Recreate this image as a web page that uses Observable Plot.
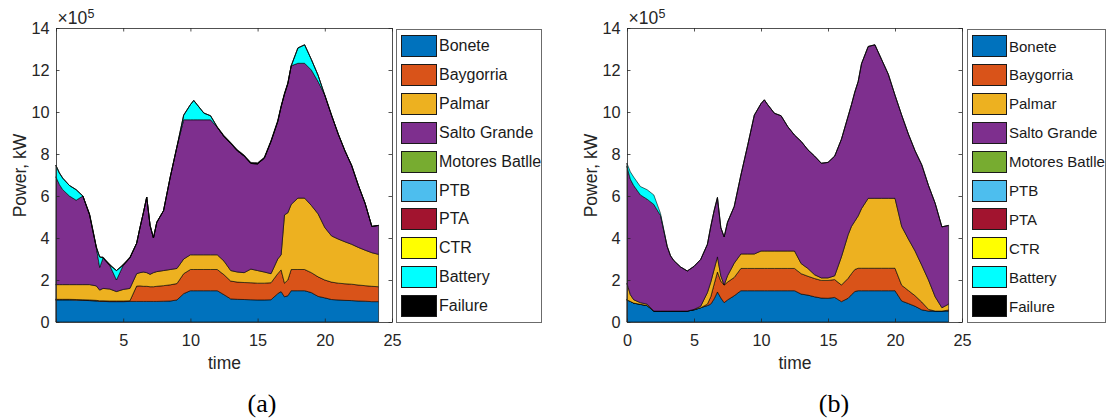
<!DOCTYPE html>
<html>
<head>
<meta charset="utf-8">
<script src="https://cdn.jsdelivr.net/npm/d3@7"></script>
<script src="https://cdn.jsdelivr.net/npm/@observablehq/plot@0.6"></script>
<style>
  html, body { margin: 0; padding: 0; background: #fff; }
  #figure { position: relative; width: 1107px; height: 420px; overflow: hidden;
            font-family: "Liberation Sans", Arial, Helvetica, sans-serif; color: #262626; }
  .panel { position: absolute; top: 0; }
  .legend { position: absolute; top: 29px; height: 294px; box-sizing: border-box;
            border: 1px solid #6b6b6b; background: #fff; z-index: 2; }
  .item { position: absolute; height: 22px; display: flex; align-items: center;
          white-space: nowrap; color: #1a1a1a; z-index: 3; }
  .swatch { box-sizing: border-box; border: 1px solid #1a1a1a; height: 22px; flex: none; }
  .label { margin-left: 2px; }
  .caption { position: absolute; top: 389px; line-height: 30px; font-size: 26px;
             font-family: "Liberation Serif", "Times New Roman", serif; color: #000;
             transform: translateX(-50%); }
</style>
</head>
<body>
<div id="figure"></div>
<script>
// Time of day, hours
const hours = [
  0, 0.25, 0.5, 1, 1.5, 2, 2.5, 3, 3.25, 3.5,
  4, 4.5, 5, 5.5, 6,
  6.25, 6.5, 6.75, 7, 7.25, 7.5,
  8, 8.5, 9, 9.5, 10,
  10.25, 10.5,
  11, 11.5, 12, 12.5, 13, 13.5, 14, 14.5, 15, 15.5, 16, 16.5,
  16.75, 17, 17.25, 17.5,
  18, 18.5, 19, 19.5, 20, 20.5, 21, 21.5, 22, 22.5, 23, 23.5, 24
];

// Generating units, in stacking order, with their colours
const seriesNames = ["Bonete", "Baygorria", "Palmar", "Salto Grande", "Motores Batlle",
                     "PTB", "PTA", "CTR", "Battery", "Failure"];
const seriesColors = ["#0072BD", "#D95319", "#EDB120", "#7E2F8E", "#77AC30",
                      "#4DBEEE", "#A2142F", "#FFFF00", "#00FFFF", "#000000"];

const yTicks = [0, 2, 4, 6, 8, 10, 12, 14];
const xTicks = [0, 5, 10, 15, 20, 25];
const xTickLabelsA = [5, 10, 15, 20, 25];
const xTickLabelsB = [0, 5, 10, 15, 20, 25];

// ---- Case (a): dispatch, power in 10^5 kW ----
const boneteA = [
  1.05, 1.05, 1.05, 1.05, 1.04, 1.03, 1.02, 1.00, 0.98, 0.98,
  0.97, 0.97, 0.97, 0.98, 0.98,
  0.98, 0.98, 0.98, 0.98, 0.98, 0.98,
  0.99, 1.00, 1.05, 1.35, 1.49,
  1.49, 1.49,
  1.49, 1.49, 1.49, 1.30, 1.10, 1.08, 1.07, 1.06, 1.05, 1.05, 1.06, 1.35,
  1.45, 1.20, 1.25, 1.49,
  1.49, 1.49, 1.40, 1.22, 1.15, 1.07, 1.05, 1.03, 1.02, 1.00, 0.99, 0.97, 0.97
];
const baygorriaA = [
  0.03, 0.03, 0.03, 0.03, 0.03, 0.03, 0.03, 0.03, 0.03, 0.03,
  0.03, 0.03, 0.03, 0.03, 0.73,
  0.74, 0.72, 0.72, 0.70, 0.70, 0.72,
  0.74, 0.77, 0.78, 0.95, 1.01,
  1.01, 1.01,
  1.01, 1.01, 1.01, 0.95, 0.85, 0.82, 0.81, 0.81, 0.80, 0.80, 0.81, 0.95,
  1.03, 0.65, 0.75, 1.01,
  1.01, 1.01, 0.95, 0.93, 0.85, 0.83, 0.80, 0.79, 0.78, 0.76, 0.74, 0.73, 0.71
];
const palmarA = [
  0.70, 0.70, 0.70, 0.70, 0.71, 0.72, 0.73, 0.69, 0.51, 0.59,
  0.57, 0.45, 0.55, 0.59, 0.59,
  0.63, 0.68, 0.65, 0.59, 0.67, 0.70,
  0.72, 0.73, 0.72, 0.70, 0.70,
  0.70, 0.70,
  0.70, 0.70, 0.70, 0.65, 0.50, 0.48, 0.47, 0.65, 0.60, 0.53, 0.43, 0.70,
  0.72, 3.25, 3.20, 3.10,
  3.40, 3.40, 3.20, 3.00, 2.50, 2.20, 2.10, 2.00, 1.90, 1.79, 1.69, 1.60, 1.54
];
const saltoGrandeA = [
  5.12, 4.77, 4.52, 4.22, 4.02, 4.22, 3.32, 1.83, 1.08, 1.45,
  1.13, 0.55, 1.15, 1.45, 1.45,
  2.15, 2.82, 3.60, 2.33, 1.65, 2.35,
  2.85, 4.40, 5.80, 6.63, 6.43,
  6.43, 6.43,
  6.43, 6.43, 6.07, 5.93, 6.05, 5.77, 5.55, 5.03, 5.08, 5.42, 6.30, 6.55,
  7.05, 5.75, 6.15, 6.60,
  6.42, 6.42, 6.45, 6.30, 6.30, 5.75, 5.00, 4.33, 3.75, 2.95, 2.23, 1.25, 1.38
];
const batteryA = [
  0.55, 0.55, 0.55, 0.50, 0.50, 0, 0, 0, 0.50, 0,
  0, 0.45, 0, 0, 0,
  0, 0, 0, 0, 0, 0,
  0, 0, 0, 0.22, 0.72,
  0.92, 0.72,
  0.32, 0.19, 0, 0, 0, 0, 0, 0, 0, 0, 0, 0,
  0, 0, 0, 0,
  0.73, 0.88, 0.50, 0.30, 0, 0, 0, 0, 0, 0, 0, 0, 0
];
const failureA = [
  0, 0, 0, 0, 0, 0, 0.05, 0.05, 0, 0.05,
  0.05, 0, 0.05, 0.05, 0,
  0, 0, 0, 0, 0, 0,
  0, 0, 0, 0, 0,
  0, 0,
  0, 0, 0.03, 0.05, 0.05, 0.05, 0.05, 0.05, 0.05, 0.05, 0.05, 0.05,
  0.05, 0.05, 0.05, 0,
  0, 0, 0, 0, 0, 0, 0, 0, 0, 0, 0, 0, 0
];

// ---- Case (b): dispatch, power in 10^5 kW ----
const boneteB = [
  1.05, 0.98, 0.90, 0.84, 0.78, 0.52, 0.52, 0.52, 0.52, 0.52,
  0.52, 0.52, 0.58, 0.68, 0.78,
  0.85, 1.10, 1.43, 1.15, 0.92, 1.05,
  1.25, 1.49, 1.49, 1.49, 1.49,
  1.49, 1.49,
  1.49, 1.49, 1.49, 1.49, 1.33, 1.28, 1.20, 1.14, 1.13, 1.17, 0.97, 1.13,
  1.30, 1.45, 1.49, 1.49,
  1.49, 1.49, 1.49, 1.49, 1.49, 1.00, 0.88, 0.75, 0.58, 0.52, 0.52, 0.52, 0.52
];
const baygorriaB = [
  0, 0, 0, 0, 0, 0, 0, 0, 0, 0,
  0, 0, 0, 0, 0.07,
  0.35, 0.70, 0.95, 0.80, 0.84, 0.85,
  0.87, 1.06, 1.06, 1.06, 1.06,
  1.06, 1.06,
  1.06, 1.06, 1.06, 1.06, 0.97, 0.90, 0.87, 0.84, 0.85, 0.85, 0.79, 0.95,
  1.00, 1.05, 1.07, 1.07,
  1.07, 1.07, 1.07, 1.07, 1.07, 0.75, 0.62, 0.50, 0.37, 0.08, 0, 0, 0.05
];
const palmarB = [
  0.78, 0.32, 0.16, 0.08, 0.07, 0, 0, 0, 0, 0,
  0, 0, 0.02, 0.07, 0.55,
  0.70, 0.70, 0.72, 0.25, 0, 0.30,
  0.68, 0.69, 0.69, 0.69, 0.83,
  0.83, 0.83,
  0.83, 0.83, 0.83, 0.83, 0.48, 0.37, 0.18, 0.12, 0.12, 0.18, 1.34, 2.07,
  2.25, 2.30, 2.49, 2.84,
  3.33, 3.33, 3.33, 3.33, 3.33, 2.80, 2.45, 2.13, 1.75, 1.40, 0.68, 0.16, 0.28
];
const saltoGrandeB = [
  5.57, 5.50, 5.44, 5.13, 5.00, 5.08, 4.55, 3.08, 2.63, 2.40,
  2.10, 1.91, 2.05, 2.23, 2.30,
  2.65, 2.80, 2.83, 2.30, 2.29, 2.55,
  2.70, 3.76, 5.16, 6.61, 7.02,
  7.20, 6.97,
  6.56, 6.44, 5.92, 5.52, 5.82, 5.65, 5.65, 5.46, 5.50, 5.70, 5.60, 5.65,
  5.80, 6.15, 6.40, 6.90,
  7.23, 7.31, 6.61, 5.91, 4.91, 5.30, 5.00, 4.77, 4.78, 4.50, 4.45, 3.85, 3.75
];
const batteryB = [
  0.15, 0.35, 0.40, 0.40, 0.45, 0.45, 0.10, 0, 0, 0,
  0, 0, 0, 0, 0,
  0, 0, 0, 0, 0, 0,
  0, 0, 0, 0, 0,
  0, 0,
  0, 0, 0, 0, 0, 0, 0, 0, 0, 0, 0, 0,
  0, 0, 0, 0,
  0, 0, 0, 0, 0, 0, 0, 0, 0, 0, 0, 0, 0
];

// Units that produced nothing on this day (Motores Batlle, PTB, PTA, CTR)
// only appear in the legend.
const layersA = [
  {name: "Bonete", values: boneteA},
  {name: "Baygorria", values: baygorriaA},
  {name: "Palmar", values: palmarA},
  {name: "Salto Grande", values: saltoGrandeA},
  {name: "Battery", values: batteryA},
  {name: "Failure", values: failureA}
];
const layersB = [
  {name: "Bonete", values: boneteB},
  {name: "Baygorria", values: baygorriaB},
  {name: "Palmar", values: palmarB},
  {name: "Salto Grande", values: saltoGrandeB},
  {name: "Battery", values: batteryB}
];

const W = 400, H = 380, MT = 28, MB = 58, MR = 8;
const TICK_PX = 3.5;
const AXIS = "#262626";
const FONT = '"Liberation Sans", Arial, Helvetica, sans-serif';

function drawPanel(layers, marginLeft, xLabels) {
  const rows = [];
  for (const {name, values} of layers) {
    values.forEach((v, i) => rows.push({series: name, time: hours[i], power: v}));
  }
  const plotW = W - marginLeft - MR, plotH = H - MT - MB;
  const tx = TICK_PX * 25 / plotW, ty = TICK_PX * 14 / plotH;
  const tick = {stroke: AXIS, strokeWidth: 0.8};
  return Plot.plot({
    width: W, height: H,
    marginLeft, marginRight: MR, marginTop: MT, marginBottom: MB,
    style: {background: "transparent", fontFamily: FONT, color: AXIS, overflow: "visible"},
    x: {domain: [0, 25]},
    y: {domain: [0, 14]},
    color: {domain: seriesNames, range: seriesColors},
    marks: [
      Plot.areaY(rows, {x: "time", y: "power", fill: "series", order: seriesNames,
                        stroke: "#000", strokeWidth: 0.6, strokeLinejoin: "round"}),
      Plot.frame({stroke: AXIS, strokeWidth: 0.8}),
      // inward ticks on all four sides
      Plot.ruleX(xTicks, {x: d => d, y1: 0, y2: ty, ...tick}),
      Plot.ruleX(xTicks, {x: d => d, y1: 14, y2: 14 - ty, ...tick}),
      Plot.ruleY(yTicks, {y: d => d, x1: 0, x2: tx, ...tick}),
      Plot.ruleY(yTicks, {y: d => d, x1: 25, x2: 25 - tx, ...tick}),
      Plot.axisX(xLabels, {tickSize: 0, tickPadding: 11.5, fontSize: 16.3, label: null}),
      Plot.axisY(yTicks, {tickSize: 0, tickPadding: 7, fontSize: 16.3, label: null}),
      Plot.text(["time"], {text: d => d, frameAnchor: "bottom", textAnchor: "middle",
                           lineAnchor: "bottom", dy: 46.5, fontSize: 17.5}),
      Plot.text(["Power, kW"], {text: d => d, frameAnchor: "left", textAnchor: "middle",
                                lineAnchor: "bottom", rotate: -90, dx: -31, fontSize: 17.5}),
      Plot.text(["×10"], {text: d => d, frameAnchor: "top-left", textAnchor: "start",
                          lineAnchor: "bottom", dx: 1, dy: -5, fontSize: 17.5}),
      Plot.text(["5"], {text: d => d, frameAnchor: "top-left", textAnchor: "start",
                        lineAnchor: "bottom", dx: 31, dy: -11, fontSize: 12.5})
    ]
  });
}

const fig = document.getElementById("figure");

function place(el, left) {
  el.classList.add("panel");
  el.style.left = left + "px";
  fig.appendChild(el);
}
place(drawPanel(layersA, 56, xTickLabelsA), 0);
place(drawPanel(layersB, 57, xTickLabelsB), 570);

// Legends
function legend(left, width, swatchW, fontSize) {
  const box = document.createElement("div");
  box.className = "legend";
  box.style.left = left + "px";
  box.style.width = width + "px";
  fig.appendChild(box);
  seriesNames.forEach((name, i) => {
    const item = document.createElement("div");
    item.className = "item";
    item.style.left = (left + 5) + "px";
    item.style.top = (35 + i * 28.9) + "px";
    const sw = document.createElement("div");
    sw.className = "swatch";
    sw.style.width = swatchW + "px";
    sw.style.background = seriesColors[i];
    const lab = document.createElement("span");
    lab.className = "label";
    lab.style.fontSize = fontSize + "px";
    lab.textContent = name;
    item.appendChild(sw);
    item.appendChild(lab);
    fig.appendChild(item);
  });
}
legend(396, 146, 36, 16);
legend(967, 139, 35, 15);

// Sub-figure captions
[["(a)", 262], ["(b)", 834]].forEach(([t, x]) => {
  const c = document.createElement("div");
  c.className = "caption";
  c.style.left = x + "px";
  c.textContent = t;
  fig.appendChild(c);
});
</script>
</body>
</html>
